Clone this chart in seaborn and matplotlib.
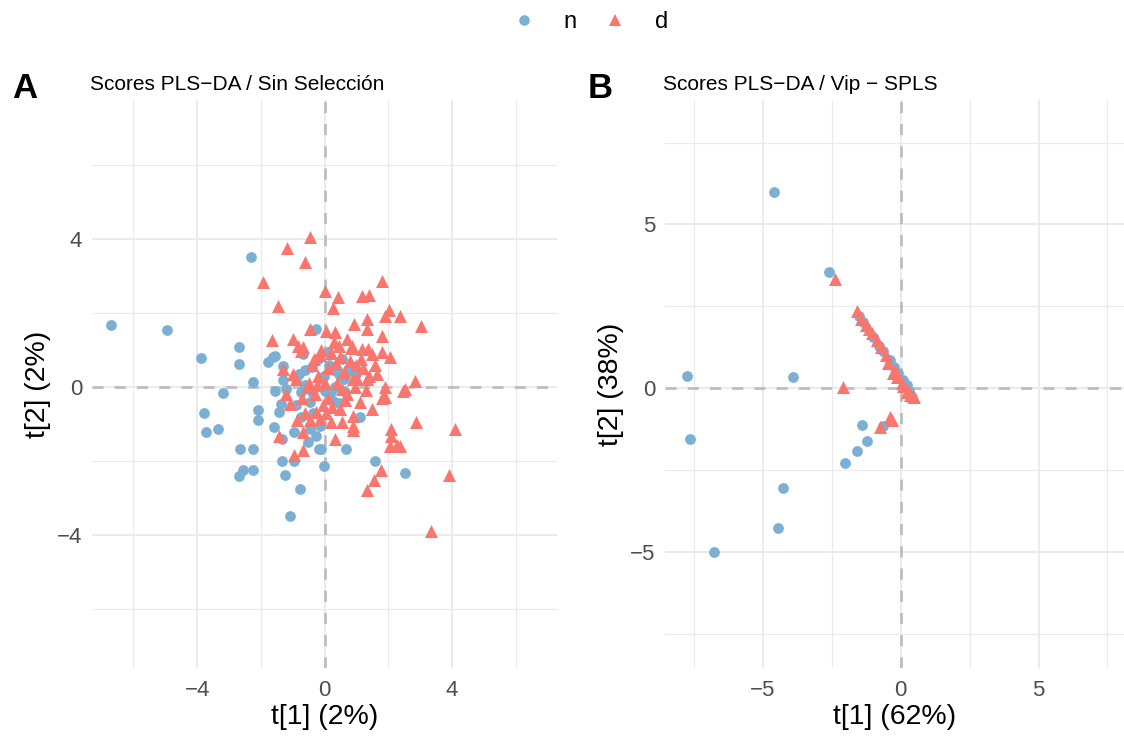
import matplotlib
matplotlib.use("Agg")
import matplotlib.pyplot as plt
from matplotlib.lines import Line2D
from matplotlib.ticker import FixedLocator
import seaborn as sns
import pandas as pd

sns.set_theme(style="white")
plt.rcParams["font.family"] = ["Liberation Sans", "DejaVu Sans"]
plt.rcParams["text.color"] = "black"

# ---- Panel A: PLS-DA scores, no variable selection ----
a_n_x = [-6.71, -4.95, -3.89, -3.79, -3.73, -3.35, -3.20, -2.70, -2.70, -2.66, -2.57, -2.70,
         -2.30, -2.10, -2.10, -2.23, -2.23, -1.32, -1.25, -0.78, -1.07, -0.97, -1.60, -1.35,
         -0.97, -0.16, -0.03, -0.53, -0.28, -0.75, -1.38, -1.44, -1.54, -0.13, -0.44, -2.23,
         -1.63, -1.54, -1.76, -1.29, -0.69, -0.28, -0.38, -1.29, -0.91, -0.75, -0.38, 0.75,
         0.44, 0.34, -0.03, 0.03, 0.28, 1.13, 0.66, 1.60, 2.54, -0.12, 0.30, 0.60, -0.10,
         0.20, -0.45, 0.85, -0.60, 0.45, -0.20, 0.10, 1.00, -0.90, 0.55, -1.20, -0.60,
         0.15, -0.35, 0.65, -0.80]
a_n_y = [1.66, 1.53, 0.79, -0.70, -1.21, -1.13, -0.16, 1.07, 0.62, -1.69, -2.26, -2.42,
         3.52, -0.64, -0.91, -1.69, -2.26, -2.01, -2.39, -2.77, -3.49, -2.01, -1.10, -1.40,
         -1.21, -1.69, -2.15, -1.48, -1.34, -0.83, -0.46, -0.67, -0.11, -1.05, -1.13, 0.13,
         0.81, 0.83, 0.67, 0.56, 0.89, 1.56, 0.54, 0.19, 0.21, -0.13, -0.13, 0.40,
         0.35, 0.00, 0.30, -0.11, -0.38, -0.81, -1.69, -2.01, -2.34, -1.68, 0.45, 0.20, 0.20,
         -0.15, -0.40, 0.55, 0.45, -0.45, 0.75, 0.95, 0.35, -0.50, 0.75, -0.05, 0.05,
         0.60, -0.70, -0.15, 0.35]

a_d_x = [-0.44, -1.19, -0.60, -1.94, -1.47, 0.03, -1.66, -1.00, -0.82, -0.66, -0.44, -1.29,
         -1.00, -0.34, -0.75, 1.79, 0.41, 1.19, 1.41, 0.28, 2.01, 1.91, 2.38, 0.94,
         1.32, 1.35, 1.79, 0.06, 0.34, 0.82, 0.44, 1.19, 1.38, 1.82, 2.07, 1.50,
         1.91, 2.54, 1.03, 1.35, 3.04, 2.85, 2.88, 4.11, 3.92, 3.35, 2.38, 1.91,
         2.48, 2.10, 2.10, 2.07, 2.29, 0.34, 0.91, 0.88, 0.56, 0.19, 1.76, 1.54,
         1.35, -1.44, -0.66, -0.97, -0.69, -1.07, -0.85, -0.44, -0.13, -0.28,
         0.20, 0.50, 0.80, 1.00, 0.10, -0.20, 0.60, 0.90, 1.20, 0.40, -0.50, -0.30,
         0.10, 0.70, 1.10, 0.50, -0.70, -0.40, 1.40, 1.60, 0.30, -0.10, 0.70, -0.90,
         -1.20, 1.80, 1.50, 0.90, -0.60, 0.00, -0.05, 0.25, 0.65, -0.25,
         0.35, 0.85, 1.15, -0.15, 0.55, 1.30, 0.05, -0.55, 0.95, 1.65]
a_d_y = [4.05, 3.76, 3.36, 2.82, 2.17, 2.58, 1.26, 1.29, 1.10, 1.07, 1.56, 0.48,
         0.35, 0.75, 0.97, 2.85, 2.42, 2.44, 2.47, 2.12, 2.07, 1.91, 1.91, 1.69,
         1.83, 1.56, 1.37, 1.50, 1.48, 1.05, 1.10, 1.02, 1.02, 0.94, 0.81, 0.89,
         0.00, -0.05, 0.21, 0.21, 1.64, 0.16, -0.94, -1.13, -2.39, -3.89, -1.61, -0.27,
         -0.11, -1.13, -1.32, -1.61, -1.58, -1.40, -1.05, -1.18, -0.94, -0.94, -2.26, -2.52,
         -2.79, -1.32, -1.21, -1.85, -1.72, -0.46, -0.91, -0.91, -0.86, -0.67,
         0.90, 0.80, 0.70, 0.60, 0.50, 0.30, 0.40, 0.20, 0.50, 0.10, 0.10, -0.20,
         -0.30, -0.20, -0.40, -0.60, -0.30, 0.60, 0.30, 0.60, 1.20, 1.00, 1.30, 0.20,
         -0.20, -0.30, -0.60, -0.80, -0.70, 0.10, -0.50, -0.55, -0.35, 0.05,
         0.65, 1.10, 0.75, 0.85, -0.05, -0.10, -0.70, 0.00, 0.00, 0.35]

# ---- Panel B: PLS-DA scores on VIP / sPLS selected variables ----
b_n_x = [-4.60, -7.75, -3.91, -7.64, -4.28, -4.46, -6.78, -2.61, -1.52, -1.38, -1.01, -0.65,
         -0.40, -0.25, 0.07, 0.22, 0.40, -1.41, -0.65, -1.23, -1.59, -2.03, -0.10, 0.30, -0.80]
b_n_y = [5.98, 0.37, 0.34, -1.55, -3.05, -4.27, -5.00, 3.54, 2.20, 2.01, 1.56, 1.13,
         0.85, 0.64, 0.24, 0.09, -0.27, -1.13, -1.16, -1.62, -1.92, -2.29, 0.45, -0.10, 1.30]

b_d_x = [-2.39, -2.10, -1.59, -1.27, -1.05, -0.87, -0.54, -0.47, -0.29, -0.14, 0.04, 0.25,
         0.43, 0.22, -0.76, -0.40, -0.33, -1.45, -1.15, -0.70, -0.20, 0.10, 0.35, 0.50]
b_d_y = [3.32, 0.03, 2.35, 1.92, 1.68, 1.46, 1.01, 0.76, 0.46, 0.34, 0.15, -0.06,
         -0.24, -0.12, -1.19, -0.88, -0.98, 2.10, 1.80, 1.25, 0.55, 0.05, -0.20, -0.28]

groups = ["n", "d"]
colors = {"n": "#7BAFD4", "d": "#F8766D"}
markers = {"n": "o", "d": "^"}
msize = {"n": 60, "d": 88}

def make_frame(nx, ny, dx, dy):
    return pd.concat([
        pd.DataFrame({"t1": nx, "t2": ny, "grupo": "n"}),
        pd.DataFrame({"t1": dx, "t2": dy, "grupo": "d"}),
    ], ignore_index=True)

df_a = make_frame(a_n_x, a_n_y, a_d_x, a_d_y)
df_b = make_frame(b_n_x, b_n_y, b_d_x, b_d_y)

fig = plt.figure(figsize=(11.24, 7.41), dpi=100)
ax_a = fig.add_axes([92 / 1124, 73 / 741, 465 / 1124, 568 / 741])
ax_b = fig.add_axes([665 / 1124, 73 / 741, 459 / 1124, 568 / 741])

panels = [
    (ax_a, df_a, "Scores PLS\u2212DA / Sin Selección", "t[1] (2%)", "t[2] (2%)",
     (-7.3, 7.3), (-7.6, 7.75), [-4, 0, 4], [-6, -2, 2, 6], [-4, 0, 4], [-6, -2, 2, 6]),
    (ax_b, df_b, "Scores PLS\u2212DA / Vip \u2212 SPLS", "t[1] (62%)", "t[2] (38%)",
     (-8.55, 8.1), (-8.55, 8.8), [-5, 0, 5], [-7.5, -2.5, 2.5, 7.5], [-5, 0, 5], [-7.5, -2.5, 2.5, 7.5]),
]

for ax, df, sub, xl, yl, xlim, ylim, xt, xmt, yt, ymt in panels:
    ax.set_xlim(*xlim)
    ax.set_ylim(*ylim)
    ax.xaxis.set_major_locator(FixedLocator(xt))
    ax.xaxis.set_minor_locator(FixedLocator(xmt))
    ax.yaxis.set_major_locator(FixedLocator(yt))
    ax.yaxis.set_minor_locator(FixedLocator(ymt))
    ax.grid(which="major", color="#EBEBEB", linewidth=1.5)
    ax.grid(which="minor", color="#EBEBEB", linewidth=0.9)
    ax.set_axisbelow(True)
    for s in ax.spines.values():
        s.set_visible(False)
    ax.axhline(0, color="#BEBEBE", linewidth=2.0, linestyle=(0, (4, 4)), zorder=1)
    ax.axvline(0, color="#BEBEBE", linewidth=2.0, linestyle=(0, (4, 4)), zorder=1)
    for g in groups:
        sns.scatterplot(data=df[df["grupo"] == g], x="t1", y="t2", ax=ax,
                        color=colors[g], marker=markers[g], s=msize[g],
                        linewidth=0, legend=False, zorder=3)
    ax.tick_params(axis="x", which="both", length=0, labelsize=16,
                   labelcolor="#4D4D4D", pad=9)
    ax.tick_params(axis="y", which="both", length=0, labelsize=16,
                   labelcolor="#4D4D4D", pad=7)
    ax.set_xlabel(xl, fontsize=20.5, color="black", labelpad=2)
    ax.set_ylabel(yl, fontsize=20.5, color="black", labelpad=4)
    ax.text(-0.005, 1.011, sub, transform=ax.transAxes, fontsize=15,
            ha="left", va="bottom", color="black")

fig.text(12 / 1124, 1 - 88 / 741, "A", fontsize=25, fontweight="bold", va="center",
         ha="left", color="black")
fig.text(588 / 1124, 1 - 88 / 741, "B", fontsize=25, fontweight="bold", va="center",
         ha="left", color="black")

handles = [
    Line2D([], [], marker="o", linestyle="", color=colors["n"], markersize=7.6, markeredgewidth=0),
    Line2D([], [], marker="^", linestyle="", color=colors["d"], markersize=9.2, markeredgewidth=0),
]
fig.legend(handles, groups, loc="center", bbox_to_anchor=(590 / 1124, 1 - 22 / 741),
           ncol=2, frameon=False, fontsize=17, handlelength=1.0, handletextpad=1.2,
           columnspacing=1.1)

fig.savefig("out.png", dpi=100)
